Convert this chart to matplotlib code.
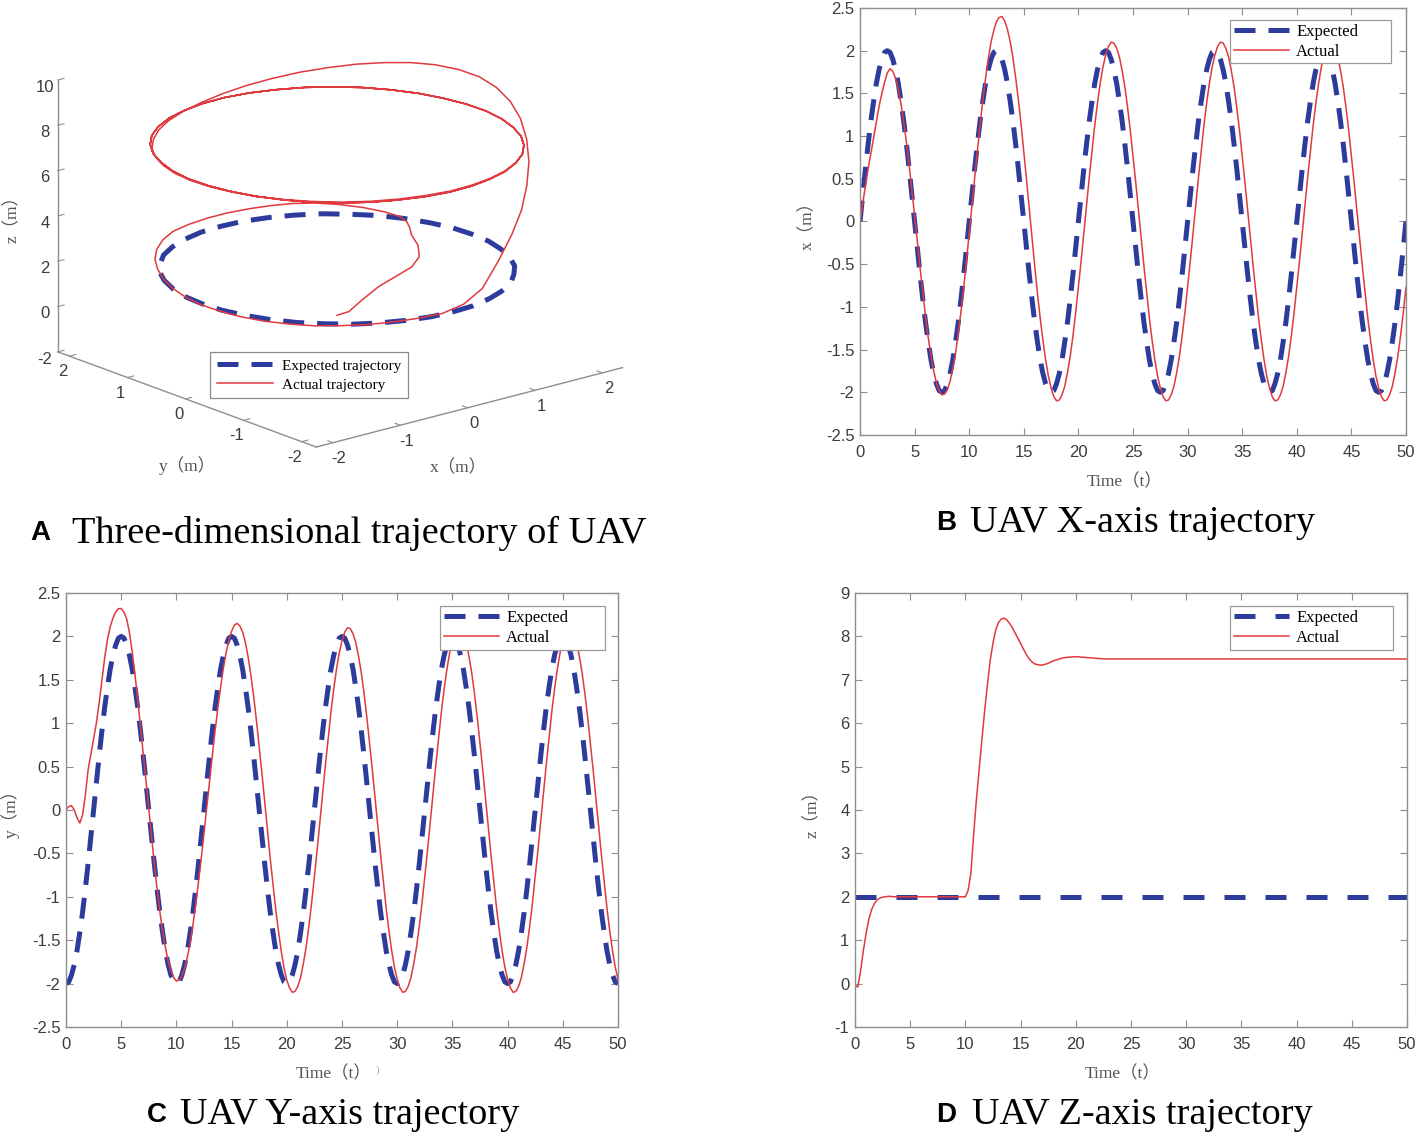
import numpy as np
import matplotlib
matplotlib.use("Agg")
import matplotlib.pyplot as plt
from matplotlib.ticker import FuncFormatter

plt.rcParams['font.family'] = ['Liberation Sans', 'DejaVu Sans']
plt.rcParams['axes.unicode_minus'] = False

# ---------------- data (sampled every 0.25 s, t = 0 ... 50 s; 10 samples per row) ----------------
time_s = np.arange(201) * 0.25

x_expected = [
    0.00, 0.31, 0.62, 0.91, 1.18, 1.41, 1.62, 1.78, 1.90, 1.98,
    2.00, 1.98, 1.90, 1.78, 1.62, 1.41, 1.18, 0.91, 0.62, 0.31,
    0.00, -0.31, -0.62, -0.91, -1.18, -1.41, -1.62, -1.78, -1.90, -1.98,
    -2.00, -1.98, -1.90, -1.78, -1.62, -1.41, -1.18, -0.91, -0.62, -0.31,
    0.00, 0.31, 0.62, 0.91, 1.18, 1.41, 1.62, 1.78, 1.90, 1.98,
    2.00, 1.98, 1.90, 1.78, 1.62, 1.41, 1.18, 0.91, 0.62, 0.31,
    0.00, -0.31, -0.62, -0.91, -1.18, -1.41, -1.62, -1.78, -1.90, -1.98,
    -2.00, -1.98, -1.90, -1.78, -1.62, -1.41, -1.18, -0.91, -0.62, -0.31,
    0.00, 0.31, 0.62, 0.91, 1.18, 1.41, 1.62, 1.78, 1.90, 1.98,
    2.00, 1.98, 1.90, 1.78, 1.62, 1.41, 1.18, 0.91, 0.62, 0.31,
    0.00, -0.31, -0.62, -0.91, -1.18, -1.41, -1.62, -1.78, -1.90, -1.98,
    -2.00, -1.98, -1.90, -1.78, -1.62, -1.41, -1.18, -0.91, -0.62, -0.31,
    0.00, 0.31, 0.62, 0.91, 1.18, 1.41, 1.62, 1.78, 1.90, 1.98,
    2.00, 1.98, 1.90, 1.78, 1.62, 1.41, 1.18, 0.91, 0.62, 0.31,
    0.00, -0.31, -0.62, -0.91, -1.18, -1.41, -1.62, -1.78, -1.90, -1.98,
    -2.00, -1.98, -1.90, -1.78, -1.62, -1.41, -1.18, -0.91, -0.62, -0.31,
    0.00, 0.31, 0.62, 0.91, 1.18, 1.41, 1.62, 1.78, 1.90, 1.98,
    2.00, 1.98, 1.90, 1.78, 1.62, 1.41, 1.18, 0.91, 0.62, 0.31,
    0.00, -0.31, -0.62, -0.91, -1.18, -1.41, -1.62, -1.78, -1.90, -1.98,
    -2.00, -1.98, -1.90, -1.78, -1.62, -1.41, -1.18, -0.91, -0.62, -0.31,
    0.00,
]

x_actual = [
    0.00, 0.21, 0.42, 0.62, 0.80, 0.98, 1.17, 1.35, 1.50, 1.63,
    1.74, 1.79, 1.76, 1.68, 1.55, 1.38, 1.17, 0.93, 0.66, 0.37,
    0.07, -0.24, -0.54, -0.83, -1.11, -1.36, -1.57, -1.75, -1.89, -1.98,
    -2.03, -2.02, -1.97, -1.87, -1.72, -1.54, -1.31, -1.05, -0.77, -0.46,
    -0.14, 0.19, 0.51, 0.83, 1.14, 1.42, 1.68, 1.91, 2.10, 2.24,
    2.34, 2.39, 2.40, 2.35, 2.25, 2.11, 1.92, 1.69, 1.43, 1.14,
    0.82, 0.49, 0.15, -0.19, -0.52, -0.84, -1.13, -1.39, -1.62, -1.81,
    -1.95, -2.05, -2.10, -2.09, -2.03, -1.93, -1.77, -1.58, -1.34, -1.07,
    -0.77, -0.46, -0.13, 0.20, 0.52, 0.83, 1.13, 1.39, 1.62, 1.81,
    1.95, 2.05, 2.10, 2.09, 2.03, 1.93, 1.77, 1.58, 1.34, 1.07,
    0.77, 0.46, 0.13, -0.20, -0.52, -0.83, -1.13, -1.39, -1.62, -1.81,
    -1.95, -2.05, -2.10, -2.09, -2.03, -1.93, -1.77, -1.58, -1.34, -1.07,
    -0.77, -0.46, -0.13, 0.20, 0.52, 0.83, 1.13, 1.39, 1.62, 1.81,
    1.95, 2.05, 2.10, 2.09, 2.03, 1.93, 1.77, 1.58, 1.34, 1.07,
    0.77, 0.46, 0.13, -0.20, -0.52, -0.83, -1.13, -1.39, -1.62, -1.81,
    -1.95, -2.05, -2.10, -2.09, -2.03, -1.93, -1.77, -1.58, -1.34, -1.07,
    -0.77, -0.46, -0.13, 0.20, 0.52, 0.83, 1.13, 1.39, 1.62, 1.81,
    1.95, 2.05, 2.10, 2.09, 2.03, 1.93, 1.77, 1.58, 1.34, 1.07,
    0.77, 0.46, 0.13, -0.20, -0.52, -0.83, -1.13, -1.39, -1.62, -1.81,
    -1.95, -2.05, -2.10, -2.09, -2.03, -1.93, -1.77, -1.58, -1.34, -1.07,
    -0.77,
]

y_expected = [
    -2.00, -1.98, -1.90, -1.78, -1.62, -1.41, -1.18, -0.91, -0.62, -0.31,
    0.00, 0.31, 0.62, 0.91, 1.18, 1.41, 1.62, 1.78, 1.90, 1.98,
    2.00, 1.98, 1.90, 1.78, 1.62, 1.41, 1.18, 0.91, 0.62, 0.31,
    0.00, -0.31, -0.62, -0.91, -1.18, -1.41, -1.62, -1.78, -1.90, -1.98,
    -2.00, -1.98, -1.90, -1.78, -1.62, -1.41, -1.18, -0.91, -0.62, -0.31,
    0.00, 0.31, 0.62, 0.91, 1.18, 1.41, 1.62, 1.78, 1.90, 1.98,
    2.00, 1.98, 1.90, 1.78, 1.62, 1.41, 1.18, 0.91, 0.62, 0.31,
    0.00, -0.31, -0.62, -0.91, -1.18, -1.41, -1.62, -1.78, -1.90, -1.98,
    -2.00, -1.98, -1.90, -1.78, -1.62, -1.41, -1.18, -0.91, -0.62, -0.31,
    0.00, 0.31, 0.62, 0.91, 1.18, 1.41, 1.62, 1.78, 1.90, 1.98,
    2.00, 1.98, 1.90, 1.78, 1.62, 1.41, 1.18, 0.91, 0.62, 0.31,
    0.00, -0.31, -0.62, -0.91, -1.18, -1.41, -1.62, -1.78, -1.90, -1.98,
    -2.00, -1.98, -1.90, -1.78, -1.62, -1.41, -1.18, -0.91, -0.62, -0.31,
    0.00, 0.31, 0.62, 0.91, 1.18, 1.41, 1.62, 1.78, 1.90, 1.98,
    2.00, 1.98, 1.90, 1.78, 1.62, 1.41, 1.18, 0.91, 0.62, 0.31,
    0.00, -0.31, -0.62, -0.91, -1.18, -1.41, -1.62, -1.78, -1.90, -1.98,
    -2.00, -1.98, -1.90, -1.78, -1.62, -1.41, -1.18, -0.91, -0.62, -0.31,
    0.00, 0.31, 0.62, 0.91, 1.18, 1.41, 1.62, 1.78, 1.90, 1.98,
    2.00, 1.98, 1.90, 1.78, 1.62, 1.41, 1.18, 0.91, 0.62, 0.31,
    0.00, -0.31, -0.62, -0.91, -1.18, -1.41, -1.62, -1.78, -1.90, -1.98,
    -2.00,
]

y_actual = [
    0.00, 0.04, 0.05, 0.00, -0.09, -0.15, -0.06, 0.17, 0.46, 0.64,
    0.82, 1.00, 1.23, 1.49, 1.75, 1.96, 2.11, 2.21, 2.28, 2.32,
    2.32, 2.28, 2.20, 2.04, 1.82, 1.56, 1.27, 0.96, 0.64, 0.33,
    0.01, -0.31, -0.62, -0.91, -1.17, -1.40, -1.58, -1.74, -1.85, -1.93,
    -1.97, -1.96, -1.91, -1.82, -1.69, -1.53, -1.32, -1.09, -0.83, -0.56,
    -0.27, 0.03, 0.33, 0.62, 0.91, 1.17, 1.41, 1.63, 1.81, 1.96,
    2.06, 2.13, 2.15, 2.12, 2.05, 1.93, 1.76, 1.55, 1.31, 1.03,
    0.73, 0.42, 0.09, -0.24, -0.56, -0.86, -1.15, -1.40, -1.63, -1.82,
    -1.96, -2.05, -2.10, -2.09, -2.03, -1.93, -1.77, -1.58, -1.34, -1.07,
    -0.77, -0.46, -0.13, 0.20, 0.52, 0.83, 1.13, 1.39, 1.62, 1.81,
    1.95, 2.05, 2.10, 2.09, 2.03, 1.93, 1.77, 1.58, 1.34, 1.07,
    0.77, 0.46, 0.13, -0.20, -0.52, -0.83, -1.13, -1.39, -1.62, -1.81,
    -1.95, -2.05, -2.10, -2.09, -2.03, -1.93, -1.77, -1.58, -1.34, -1.07,
    -0.77, -0.46, -0.13, 0.20, 0.52, 0.83, 1.13, 1.39, 1.62, 1.81,
    1.95, 2.05, 2.10, 2.09, 2.03, 1.93, 1.77, 1.58, 1.34, 1.07,
    0.77, 0.46, 0.13, -0.20, -0.52, -0.83, -1.13, -1.39, -1.62, -1.81,
    -1.95, -2.05, -2.10, -2.09, -2.03, -1.93, -1.77, -1.58, -1.34, -1.07,
    -0.77, -0.46, -0.13, 0.20, 0.52, 0.83, 1.13, 1.39, 1.62, 1.81,
    1.95, 2.05, 2.10, 2.09, 2.03, 1.93, 1.77, 1.58, 1.34, 1.07,
    0.77, 0.46, 0.13, -0.20, -0.52, -0.83, -1.13, -1.39, -1.62, -1.81,
    -1.95,
]

z_expected = [
    2.0, 2.0, 2.0, 2.0, 2.0, 2.0, 2.0, 2.0, 2.0, 2.0,
    2.0, 2.0, 2.0, 2.0, 2.0, 2.0, 2.0, 2.0, 2.0, 2.0,
    2.0, 2.0, 2.0, 2.0, 2.0, 2.0, 2.0, 2.0, 2.0, 2.0,
    2.0, 2.0, 2.0, 2.0, 2.0, 2.0, 2.0, 2.0, 2.0, 2.0,
    2.0, 2.0, 2.0, 2.0, 2.0, 2.0, 2.0, 2.0, 2.0, 2.0,
    2.0, 2.0, 2.0, 2.0, 2.0, 2.0, 2.0, 2.0, 2.0, 2.0,
    2.0, 2.0, 2.0, 2.0, 2.0, 2.0, 2.0, 2.0, 2.0, 2.0,
    2.0, 2.0, 2.0, 2.0, 2.0, 2.0, 2.0, 2.0, 2.0, 2.0,
    2.0, 2.0, 2.0, 2.0, 2.0, 2.0, 2.0, 2.0, 2.0, 2.0,
    2.0, 2.0, 2.0, 2.0, 2.0, 2.0, 2.0, 2.0, 2.0, 2.0,
    2.0, 2.0, 2.0, 2.0, 2.0, 2.0, 2.0, 2.0, 2.0, 2.0,
    2.0, 2.0, 2.0, 2.0, 2.0, 2.0, 2.0, 2.0, 2.0, 2.0,
    2.0, 2.0, 2.0, 2.0, 2.0, 2.0, 2.0, 2.0, 2.0, 2.0,
    2.0, 2.0, 2.0, 2.0, 2.0, 2.0, 2.0, 2.0, 2.0, 2.0,
    2.0, 2.0, 2.0, 2.0, 2.0, 2.0, 2.0, 2.0, 2.0, 2.0,
    2.0, 2.0, 2.0, 2.0, 2.0, 2.0, 2.0, 2.0, 2.0, 2.0,
    2.0, 2.0, 2.0, 2.0, 2.0, 2.0, 2.0, 2.0, 2.0, 2.0,
    2.0, 2.0, 2.0, 2.0, 2.0, 2.0, 2.0, 2.0, 2.0, 2.0,
    2.0, 2.0, 2.0, 2.0, 2.0, 2.0, 2.0, 2.0, 2.0, 2.0,
    2.0, 2.0, 2.0, 2.0, 2.0, 2.0, 2.0, 2.0, 2.0, 2.0,
    2.0,
]

z_actual = [
    -0.04, -0.08, 0.28, 0.75, 1.15, 1.48, 1.70, 1.84, 1.93, 1.97,
    1.99, 2.00, 2.01, 2.01, 2.00, 2.00, 2.00, 2.00, 2.00, 2.00,
    2.00, 2.00, 2.00, 2.00, 2.00, 2.00, 2.00, 2.00, 2.00, 2.00,
    2.00, 2.00, 2.00, 2.00, 2.00, 2.00, 2.00, 2.00, 2.00, 2.00,
    2.00, 2.15, 2.55, 3.45, 4.25, 4.95, 5.63, 6.30, 6.90, 7.45,
    7.85, 8.15, 8.32, 8.40, 8.42, 8.38, 8.30, 8.20, 8.08, 7.96,
    7.84, 7.71, 7.59, 7.49, 7.42, 7.37, 7.35, 7.34, 7.34, 7.36,
    7.38, 7.41, 7.44, 7.46, 7.48, 7.50, 7.51, 7.52, 7.52, 7.53,
    7.53, 7.53, 7.52, 7.52, 7.51, 7.51, 7.50, 7.50, 7.49, 7.49,
    7.48, 7.48, 7.48, 7.48, 7.48, 7.48, 7.48, 7.48, 7.48, 7.48,
    7.48, 7.48, 7.48, 7.48, 7.48, 7.48, 7.48, 7.48, 7.48, 7.48,
    7.48, 7.48, 7.48, 7.48, 7.48, 7.48, 7.48, 7.48, 7.48, 7.48,
    7.48, 7.48, 7.48, 7.48, 7.48, 7.48, 7.48, 7.48, 7.48, 7.48,
    7.48, 7.48, 7.48, 7.48, 7.48, 7.48, 7.48, 7.48, 7.48, 7.48,
    7.48, 7.48, 7.48, 7.48, 7.48, 7.48, 7.48, 7.48, 7.48, 7.48,
    7.48, 7.48, 7.48, 7.48, 7.48, 7.48, 7.48, 7.48, 7.48, 7.48,
    7.48, 7.48, 7.48, 7.48, 7.48, 7.48, 7.48, 7.48, 7.48, 7.48,
    7.48, 7.48, 7.48, 7.48, 7.48, 7.48, 7.48, 7.48, 7.48, 7.48,
    7.48, 7.48, 7.48, 7.48, 7.48, 7.48, 7.48, 7.48, 7.48, 7.48,
    7.48, 7.48, 7.48, 7.48, 7.48, 7.48, 7.48, 7.48, 7.48, 7.48,
    7.48,
]

one_loop = 41  # the expected path repeats every 10 s (samples 0..40)

x_ticks_time = [0, 5, 10, 15, 20, 25, 30, 35, 40, 45, 50]
xy_yticks = [-2.5, -2, -1.5, -1, -0.5, 0, 0.5, 1, 1.5, 2, 2.5]
z_yticks = [-1, 0, 1, 2, 3, 4, 5, 6, 7, 8, 9]

# ---------------- styling ----------------
SERIF = ['Liberation Serif', 'Noto Sans CJK SC', 'DejaVu Serif']
BLUE = '#2d3c9c'
RED = '#e0393e'
TICK_C = '#3c3c3c'
SPINE_C = '#8e8e8e'
LABEL_C = '#555555'
DASH = (0, (4.2, 2.6))
DASH_D = (0, (4.2, 4.0))

W, H = 1417, 1137
fig = plt.figure(figsize=(W / 100, H / 100), dpi=100)


def axes_px(l, t, r, b, **kw):
    return fig.add_axes([l / W, 1 - b / H, (r - l) / W, (b - t) / H], **kw)


fmt = FuncFormatter(lambda v, p: f'{v:g}')


def style2d(ax, ylim, yticks, ylabel, ylab_x):
    ax.set_xlim(0, 50)
    ax.set_ylim(*ylim)
    ax.set_xticks(x_ticks_time)
    ax.set_yticks(yticks)
    ax.xaxis.set_major_formatter(fmt)
    ax.yaxis.set_major_formatter(fmt)
    ax.tick_params(direction='in', top=True, right=True, length=5, width=0.8,
                   color=SPINE_C, labelcolor=TICK_C, labelsize=12)
    ax.tick_params(axis='x', pad=7)
    ax.tick_params(axis='y', pad=4)
    for s in ax.spines.values():
        s.set_color(SPINE_C)
        s.set_linewidth(1.0)
    ax.set_xlabel('Time（t）', family=SERIF, fontsize=12.5, color=LABEL_C)
    ax.set_ylabel(ylabel, family=SERIF, fontsize=12.5, color=LABEL_C)
    ax.xaxis.set_label_coords(0.485, -0.090)
    ax.yaxis.set_label_coords(ylab_x, 0.5)


def legend2d(ax, x0, width, top):
    leg = ax.legend(loc='upper left', bbox_to_anchor=(x0, 0.5, width, top - 0.5),
                    mode='expand', prop={'family': SERIF, 'size': 12},
                    frameon=True, fancybox=False, framealpha=1,
                    edgecolor='#9a9a9a', handlelength=3.3, handletextpad=0.45,
                    labelspacing=0.25, borderpad=0.22, borderaxespad=0)
    leg.get_frame().set_linewidth(0.9)


# ---- B: x
axB = axes_px(860, 8, 1406, 435)
axB.plot(time_s, x_expected, color=BLUE, lw=3.6, ls=DASH, label='Expected')
axB.plot(time_s, x_actual, color=RED, lw=1.1, label='Actual')
style2d(axB, (-2.5, 2.5), xy_yticks, 'x（m）', -0.080)
legend2d(axB, 0.6777, 0.2949, 0.972)

# ---- C: y
axC = axes_px(66, 593, 618, 1027)
axC.plot(time_s, y_expected, color=BLUE, lw=3.6, ls=DASH, label='Expected')
axC.plot(time_s, y_actual, color=RED, lw=1.1, label='Actual')
style2d(axC, (-2.5, 2.5), xy_yticks, 'y（m）', -0.084)
legend2d(axC, 0.6775, 0.2989, 0.970)
fig.text(378 / W, 1 - 1070 / H, ')', fontsize=8, color='#aaaaaa',
         family=SERIF, ha='center', va='center')

# ---- D: z
axD = axes_px(855, 593, 1407, 1027)
axD.plot(time_s, z_expected, color=BLUE, lw=3.6, ls=DASH_D, label='Expected')
axD.plot(time_s, z_actual, color=RED, lw=1.1, label='Actual')
style2d(axD, (-1, 9), z_yticks, 'z（m）', -0.062)
legend2d(axD, 0.6793, 0.2953, 0.970)

# ---- A: 3D
ax3 = axes_px(9, 0, 659, 460, projection='3d')
ax3.computed_zorder = False
ax3.plot(x_expected[:one_loop], y_expected[:one_loop], z_expected[:one_loop],
         color=BLUE, lw=3.6, ls=DASH, label='Expected trajectory')
ax3.plot(x_actual, y_actual, z_actual, color=RED, lw=1.1, label='Actual trajectory')
ax3.set_proj_type('ortho')
ax3.view_init(elev=18, azim=-130)
ax3.set_xlim(-2.25, 2.3)
ax3.set_ylim(-2.25, 2.2)
ax3.set_zlim(-2, 10)
ax3.set_xticks([-2, -1, 0, 1, 2])
ax3.set_yticks([-2, -1, 0, 1, 2])
ax3.set_zticks([-2, 0, 2, 4, 6, 8, 10])
ax3.grid(False)
for axis in (ax3.xaxis, ax3.yaxis, ax3.zaxis):
    axis.set_pane_color((1, 1, 1, 0))
    axis.pane.set_edgecolor((1, 1, 1, 0))
    axis.line.set_color(SPINE_C)
    axis.line.set_linewidth(1.0)
    axis._axinfo['tick']['inward_factor'] = 0.0
    axis._axinfo['tick']['outward_factor'] = 0.25
    axis.set_major_formatter(fmt)
ax3.tick_params(colors=SPINE_C, labelcolor=TICK_C, labelsize=12, pad=-4)
ax3.set_box_aspect((393, 395, 281), zoom=1.34)
leg3 = ax3.legend(loc='upper left', bbox_to_anchor=(210 / W, 1 - 352 / H),
                  bbox_transform=fig.transFigure,
                  prop={'family': SERIF, 'size': 11}, frameon=True,
                  fancybox=False, framealpha=1, edgecolor='#8a8a8a',
                  handlelength=3.7, handletextpad=0.55, labelspacing=0.35,
                  borderpad=0.45, borderaxespad=0)
leg3.get_frame().set_linewidth(0.9)

# axis titles of the 3D panel
fig.text(13 / W, 1 - 215 / H, 'z（m）', family=SERIF, fontsize=12.5,
         color=LABEL_C, rotation=90, ha='center', va='center')
fig.text(187 / W, 1 - 466 / H, 'y（m）', family=SERIF, fontsize=12.5,
         color=LABEL_C, ha='center', va='center')
fig.text(458 / W, 1 - 468 / H, 'x（m）', family=SERIF, fontsize=12.5,
         color=LABEL_C, ha='center', va='center')


# ---- panel captions
def caption(x_letter, x_text, y, letter, text):
    fig.text(x_letter / W, 1 - y / H, letter, fontsize=20, fontweight='bold',
             family=['Liberation Sans'], va='center', ha='left')
    fig.text(x_text / W, 1 - y / H, text, fontsize=27.5, family=SERIF,
             va='center', ha='left')


caption(30, 72, 533, 'A', 'Three-dimensional trajectory of UAV')
caption(936, 970, 523, 'B', 'UAV X-axis trajectory')
caption(147, 180, 1115, 'C', 'UAV Y-axis trajectory')
caption(936, 972, 1115, 'D', 'UAV Z-axis trajectory')

fig.savefig('out.png', dpi=100)
